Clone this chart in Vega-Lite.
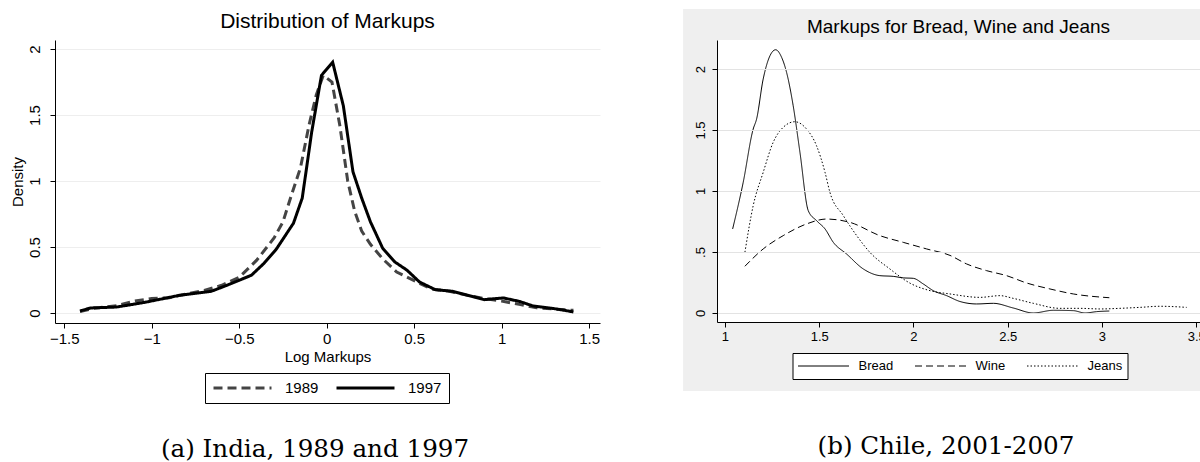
{
  "$schema": "https://vega.github.io/schema/vega-lite/v6.json",
  "background": "white",
  "padding": {"left": 10, "top": 9, "right": 0, "bottom": 0},
  "spacing": 83,
  "resolve": {
    "scale": {"x": "independent", "y": "independent", "strokeDash": "independent"},
    "legend": {"strokeDash": "independent"}
  },
  "config": {
    "view": {"stroke": null},
    "font": "Liberation Sans",
    "axis": {"labelColor": "black", "titleColor": "black", "domainColor": "black", "tickColor": "black", "labelFont": "Liberation Sans", "titleFont": "Liberation Sans", "titleFontWeight": "normal", "format": "~g"},
    "legend": {"labelFont": "Liberation Sans", "labelColor": "black"}
  },
  "hconcat": [
    {
      "title": {"text": "(a) India, 1989 and 1997", "orient": "bottom", "anchor": "middle", "font": "DejaVu Serif", "fontSize": 24.6, "fontWeight": "normal", "color": "black", "offset": 34, "dx": 10},
      "vconcat": [
        {
          "width": 545,
          "height": 283,
          "title": {"text": "Distribution of Markups", "font": "Liberation Sans", "fontSize": 21, "fontWeight": "normal", "color": "black", "offset": 8},
          "data": {"values": [
            {"year": "1989", "x": -1.41, "y": 0.01},
            {"year": "1989", "x": -1.33, "y": 0.035},
            {"year": "1989", "x": -1.2, "y": 0.055},
            {"year": "1989", "x": -1.1, "y": 0.09},
            {"year": "1989", "x": -1.0, "y": 0.11},
            {"year": "1989", "x": -0.9, "y": 0.115},
            {"year": "1989", "x": -0.8, "y": 0.145},
            {"year": "1989", "x": -0.7, "y": 0.17},
            {"year": "1989", "x": -0.6, "y": 0.21},
            {"year": "1989", "x": -0.5, "y": 0.27},
            {"year": "1989", "x": -0.4, "y": 0.4},
            {"year": "1989", "x": -0.3, "y": 0.57},
            {"year": "1989", "x": -0.25, "y": 0.69},
            {"year": "1989", "x": -0.2, "y": 0.9},
            {"year": "1989", "x": -0.15, "y": 1.1},
            {"year": "1989", "x": -0.1, "y": 1.43},
            {"year": "1989", "x": -0.06, "y": 1.65},
            {"year": "1989", "x": -0.02, "y": 1.8},
            {"year": "1989", "x": 0.03, "y": 1.75},
            {"year": "1989", "x": 0.075, "y": 1.42},
            {"year": "1989", "x": 0.12, "y": 1.0},
            {"year": "1989", "x": 0.16, "y": 0.77},
            {"year": "1989", "x": 0.2, "y": 0.62},
            {"year": "1989", "x": 0.25, "y": 0.52},
            {"year": "1989", "x": 0.32, "y": 0.41},
            {"year": "1989", "x": 0.4, "y": 0.31},
            {"year": "1989", "x": 0.5, "y": 0.245},
            {"year": "1989", "x": 0.6, "y": 0.18},
            {"year": "1989", "x": 0.7, "y": 0.165},
            {"year": "1989", "x": 0.8, "y": 0.135},
            {"year": "1989", "x": 0.9, "y": 0.11},
            {"year": "1989", "x": 1.0, "y": 0.09},
            {"year": "1989", "x": 1.1, "y": 0.065},
            {"year": "1989", "x": 1.2, "y": 0.04},
            {"year": "1989", "x": 1.3, "y": 0.03},
            {"year": "1989", "x": 1.41, "y": 0.02},
            {"year": "1997", "x": -1.41, "y": 0.015},
            {"year": "1997", "x": -1.35, "y": 0.038},
            {"year": "1997", "x": -1.2, "y": 0.045},
            {"year": "1997", "x": -1.03, "y": 0.083},
            {"year": "1997", "x": -0.84, "y": 0.134},
            {"year": "1997", "x": -0.66, "y": 0.164},
            {"year": "1997", "x": -0.57, "y": 0.21},
            {"year": "1997", "x": -0.43, "y": 0.286},
            {"year": "1997", "x": -0.36, "y": 0.374},
            {"year": "1997", "x": -0.29, "y": 0.48},
            {"year": "1997", "x": -0.19, "y": 0.68},
            {"year": "1997", "x": -0.14, "y": 0.87},
            {"year": "1997", "x": -0.115, "y": 1.1},
            {"year": "1997", "x": -0.086, "y": 1.37},
            {"year": "1997", "x": -0.03, "y": 1.8},
            {"year": "1997", "x": 0.034, "y": 1.9},
            {"year": "1997", "x": 0.095, "y": 1.57},
            {"year": "1997", "x": 0.15, "y": 1.07},
            {"year": "1997", "x": 0.2, "y": 0.87},
            {"year": "1997", "x": 0.25, "y": 0.69},
            {"year": "1997", "x": 0.32, "y": 0.49},
            {"year": "1997", "x": 0.39, "y": 0.386},
            {"year": "1997", "x": 0.46, "y": 0.323},
            {"year": "1997", "x": 0.53, "y": 0.235},
            {"year": "1997", "x": 0.62, "y": 0.177},
            {"year": "1997", "x": 0.72, "y": 0.164},
            {"year": "1997", "x": 0.9, "y": 0.101},
            {"year": "1997", "x": 1.01, "y": 0.114},
            {"year": "1997", "x": 1.1, "y": 0.088},
            {"year": "1997", "x": 1.18, "y": 0.053},
            {"year": "1997", "x": 1.3, "y": 0.033},
            {"year": "1997", "x": 1.41, "y": 0.008}
          ]},
          "mark": {"type": "line", "strokeWidth": 3, "clip": false, "stroke": {"expr": "datum.year == '1989' ? '#444444' : '#000000'"}},
          "encoding": {
            "x": {"field": "x", "type": "quantitative",
              "scale": {"domain": [-1.553, 1.562], "nice": false, "zero": false},
              "axis": {"values": [-1.5, -1, -0.5, 0, 0.5, 1, 1.5], "grid": false, "tickSize": 5, "labelFontSize": 15, "labelPadding": 3, "title": "Log Markups", "titleFontSize": 15, "titlePadding": 3}},
            "y": {"field": "y", "type": "quantitative",
              "scale": {"domain": [-0.076, 2.068], "nice": false, "zero": false},
              "axis": {"values": [0, 0.5, 1, 1.5, 2], "grid": true, "gridColor": "#eeeeee", "tickSize": 5, "labelAngle": -90, "labelFontSize": 15, "labelPadding": 8, "title": "Density", "titleFontSize": 15, "titlePadding": 2}},
            "strokeDash": {"field": "year", "type": "nominal",
              "scale": {"domain": ["1989", "1997"], "range": [[9, 5], [1, 0]]},
              "legend": {"orient": "none", "legendX": 150, "legendY": 333, "direction": "horizontal", "title": null, "strokeColor": "black", "fillColor": "white", "padding": 7, "clipHeight": 16, "symbolType": "stroke", "symbolSize": 3364, "symbolStrokeWidth": 3, "symbolStrokeColor": "black", "labelFontSize": 15, "labelOffset": 12, "columnPadding": 16,
                "encode": {"symbols": {"update": {"stroke": {"signal": "datum.value == '1989' ? '#444444' : '#000000'"}}}}}}
          }
        }
      ]
    },
    {
      "title": {"text": "(b) Chile, 2001-2007", "orient": "bottom", "anchor": "middle", "font": "DejaVu Serif", "fontSize": 24.6, "fontWeight": "normal", "color": "black", "offset": 44, "dx": -5},
      "vconcat": [
        {
          "width": 483,
          "height": 282,
          "title": {"text": "Markups for Bread, Wine and Jeans", "font": "Liberation Sans", "fontSize": 19, "fontWeight": "normal", "color": "black", "offset": -28},
          "layer": [
            {
              "data": {"values": [{}]},
              "mark": {"type": "rect", "fill": "#efefef", "clip": false},
              "encoding": {
                "x": {"datum": 0.778, "type": "quantitative"},
                "x2": {"datum": 3.62},
                "y": {"datum": 2.492, "type": "quantitative"},
                "y2": {"datum": -0.639}
              }
            },
            {
              "data": {"values": [{}]},
              "mark": {"type": "rect", "fill": "white", "clip": false},
              "encoding": {
                "x": {"datum": 0.958, "type": "quantitative"},
                "x2": {"datum": 3.62},
                "y": {"datum": 2.238, "type": "quantitative"},
                "y2": {"datum": -0.074}
              }
            },
            {
              "data": {"values": [
                {"product": "Bread", "x": 1.041, "y": 0.689},
                {"product": "Bread", "x": 1.097, "y": 1.071},
                {"product": "Bread", "x": 1.15, "y": 1.508},
                {"product": "Bread", "x": 1.168, "y": 1.59},
                {"product": "Bread", "x": 1.203, "y": 1.918},
                {"product": "Bread", "x": 1.239, "y": 2.109},
                {"product": "Bread", "x": 1.269, "y": 2.158},
                {"product": "Bread", "x": 1.301, "y": 2.095},
                {"product": "Bread", "x": 1.327, "y": 1.973},
                {"product": "Bread", "x": 1.362, "y": 1.7},
                {"product": "Bread", "x": 1.398, "y": 1.317},
                {"product": "Bread", "x": 1.442, "y": 0.839},
                {"product": "Bread", "x": 1.486, "y": 0.757},
                {"product": "Bread", "x": 1.531, "y": 0.689},
                {"product": "Bread", "x": 1.575, "y": 0.579},
                {"product": "Bread", "x": 1.645, "y": 0.484},
                {"product": "Bread", "x": 1.734, "y": 0.361},
                {"product": "Bread", "x": 1.822, "y": 0.306},
                {"product": "Bread", "x": 1.893, "y": 0.3},
                {"product": "Bread", "x": 1.946, "y": 0.288},
                {"product": "Bread", "x": 1.999, "y": 0.284},
                {"product": "Bread", "x": 2.052, "y": 0.238},
                {"product": "Bread", "x": 2.105, "y": 0.183},
                {"product": "Bread", "x": 2.176, "y": 0.142},
                {"product": "Bread", "x": 2.247, "y": 0.094},
                {"product": "Bread", "x": 2.335, "y": 0.074},
                {"product": "Bread", "x": 2.424, "y": 0.079},
                {"product": "Bread", "x": 2.529, "y": 0.041},
                {"product": "Bread", "x": 2.636, "y": 0.0},
                {"product": "Bread", "x": 2.742, "y": 0.022},
                {"product": "Bread", "x": 2.848, "y": 0.019},
                {"product": "Bread", "x": 2.91, "y": 0.0},
                {"product": "Bread", "x": 2.972, "y": 0.011},
                {"product": "Bread", "x": 3.039, "y": 0.016},
                {"product": "Wine", "x": 1.106, "y": 0.383},
                {"product": "Wine", "x": 1.203, "y": 0.525},
                {"product": "Wine", "x": 1.309, "y": 0.634},
                {"product": "Wine", "x": 1.433, "y": 0.73},
                {"product": "Wine", "x": 1.539, "y": 0.77},
                {"product": "Wine", "x": 1.663, "y": 0.743},
                {"product": "Wine", "x": 1.822, "y": 0.634},
                {"product": "Wine", "x": 1.946, "y": 0.579},
                {"product": "Wine", "x": 2.07, "y": 0.525},
                {"product": "Wine", "x": 2.194, "y": 0.472},
                {"product": "Wine", "x": 2.282, "y": 0.402},
                {"product": "Wine", "x": 2.388, "y": 0.347},
                {"product": "Wine", "x": 2.494, "y": 0.306},
                {"product": "Wine", "x": 2.6, "y": 0.246},
                {"product": "Wine", "x": 2.724, "y": 0.197},
                {"product": "Wine", "x": 2.848, "y": 0.156},
                {"product": "Wine", "x": 3.039, "y": 0.125},
                {"product": "Jeans", "x": 1.106, "y": 0.497},
                {"product": "Jeans", "x": 1.15, "y": 0.88},
                {"product": "Jeans", "x": 1.203, "y": 1.153},
                {"product": "Jeans", "x": 1.256, "y": 1.399},
                {"product": "Jeans", "x": 1.309, "y": 1.522},
                {"product": "Jeans", "x": 1.371, "y": 1.568},
                {"product": "Jeans", "x": 1.433, "y": 1.508},
                {"product": "Jeans", "x": 1.486, "y": 1.371},
                {"product": "Jeans", "x": 1.531, "y": 1.153},
                {"product": "Jeans", "x": 1.557, "y": 0.989},
                {"product": "Jeans", "x": 1.628, "y": 0.798},
                {"product": "Jeans", "x": 1.699, "y": 0.634},
                {"product": "Jeans", "x": 1.769, "y": 0.497},
                {"product": "Jeans", "x": 1.875, "y": 0.361},
                {"product": "Jeans", "x": 1.981, "y": 0.245},
                {"product": "Jeans", "x": 2.088, "y": 0.183},
                {"product": "Jeans", "x": 2.194, "y": 0.156},
                {"product": "Jeans", "x": 2.353, "y": 0.128},
                {"product": "Jeans", "x": 2.459, "y": 0.142},
                {"product": "Jeans", "x": 2.529, "y": 0.12},
                {"product": "Jeans", "x": 2.636, "y": 0.079},
                {"product": "Jeans", "x": 2.777, "y": 0.038},
                {"product": "Jeans", "x": 2.883, "y": 0.038},
                {"product": "Jeans", "x": 2.989, "y": 0.033},
                {"product": "Jeans", "x": 3.095, "y": 0.038},
                {"product": "Jeans", "x": 3.202, "y": 0.046},
                {"product": "Jeans", "x": 3.308, "y": 0.055},
                {"product": "Jeans", "x": 3.449, "y": 0.046}
              ]},
              "mark": {"type": "line", "strokeWidth": 1, "stroke": "black", "interpolate": "monotone", "clip": false},
              "encoding": {
                "x": {"field": "x", "type": "quantitative"},
                "y": {"field": "y", "type": "quantitative"},
                "strokeDash": {"field": "product", "type": "nominal",
                  "scale": {"domain": ["Bread", "Wine", "Jeans"], "range": [[1, 0], [7, 4], [1.5, 2]]},
                  "legend": {"orient": "none", "legendX": 75.5, "legendY": 313, "direction": "horizontal", "title": null, "strokeColor": "black", "fillColor": "white", "padding": 5, "clipHeight": 16, "symbolType": "stroke", "symbolSize": 2601, "symbolStrokeWidth": 1, "symbolStrokeColor": "black", "labelFontSize": 13, "labelOffset": 9, "columnPadding": 21}}
              }
            }
          ],
          "encoding": {
            "x": {"type": "quantitative",
              "scale": {"domain": [0.958, 3.52], "nice": false, "zero": false},
              "axis": {"values": [1, 1.5, 2, 2.5, 3, 3.5], "grid": false, "tickSize": 5, "labelFontSize": 13, "labelPadding": 3, "title": null, "zindex": 1}},
            "y": {"type": "quantitative",
              "scale": {"domain": [-0.074, 2.238], "nice": false, "zero": false},
              "axis": {"values": [0, 0.5, 1, 1.5, 2], "grid": true, "gridColor": "#e3e3e3", "tickSize": 5, "labelAngle": -90, "labelFontSize": 13, "labelPadding": 5, "title": null, "zindex": 1, "labelExpr": "datum.value == 0.5 ? '.5' : datum.label"}}
          }
        }
      ]
    }
  ]
}
